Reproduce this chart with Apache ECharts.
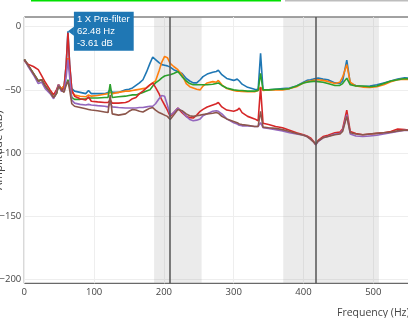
<!DOCTYPE html>
<html><head><meta charset="utf-8">
<script src="https://cdn.jsdelivr.net/npm/echarts@6/dist/echarts.min.js"></script>
<style>html,body{margin:0;padding:0;background:#fff}#c{width:408px;height:318px}</style>
</head><body><div id="c"></div>
<script>
const freq = [0,6,13,20,25,30,37,42,46,49, 53,57,60,62.5,65,68,72,80,88,92, 96,105,115,120,123,126,135,145,150,155, 160,165,170,175,180,184,188,193,197,201, 205,209,214,220,226,232,237,242,247,252, 256,262,270,275,278,283,290,300,305,308, 312,320,330,335,338.5,342,350,360,370,380, 390,400,405,410,414,417.5,421,428,435,445, 452,456,462,467,475,485,495,505,515,525, 535,545,555,565];
const seriesNames = ['1 X Pre-filter','2 X Pre-filter','3 X Pre-filter','1 X Post-filter','2 X Post-filter','3 X Post-filter'];
const blueVals = [-26,-31,-37,-43,-42,-47,-52,-56,-53,-46, -49,-47,-30,-3.61,-30,-49,-51,-52,-53,-50.5, -53,-53,-53,-52,-50,-52,-52,-50,-49.5,-48.5, -46.5,-44.5,-42,-36,-29,-24,-26,-28.5,-30,-30.5, -31,-32,-34,-35.5,-37,-41,-43,-44.5,-44.5,-42, -39.5,-37.5,-36,-35.5,-34.5,-38,-41,-42.5,-41.5,-43, -45.5,-48,-49.5,-50,-21,-50,-50,-49.5,-49,-48.5, -47,-44,-42.5,-42,-41.5,-41,-40.7,-41.5,-42,-44.5, -45,-43,-26.5,-45,-46.5,-47.3,-47,-46,-44.5,-43, -41.5,-40.5,-41,-41.5];
const orangeVals = [-26,-31,-37,-43,-42,-47,-52,-56,-53,-46, -49,-47,-35,-24.8,-35,-52,-54,-55,-55.5,-54, -55,-54.5,-53.5,-53,-52,-53,-52,-51,-51,-50.5, -50,-49.5,-49,-48.5,-46,-44.5,-43,-35,-28,-23.5, -24.5,-29,-31.5,-34,-38,-45,-47.5,-48.5,-49.5,-50, -47,-44.5,-43.5,-44,-42.5,-46,-49,-50.5,-51,-51, -51.3,-51.5,-51.5,-50.5,-48,-50.5,-50,-50,-50,-49, -47.5,-44.5,-43.5,-43,-42.5,-42,-42,-42.5,-43.3,-45, -44,-40,-30,-44,-47,-47.8,-48,-47.5,-46,-43.5, -42,-41.5,-42,-42];
const greenVals = [-26,-31,-37,-43,-42,-47,-52,-56,-53,-47, -50,-49,-46,-42,-47,-56,-57.5,-57.5,-57,-56.5, -56.5,-56.5,-56,-56,-45.5,-56,-55.5,-55,-54.5,-54, -54,-53,-52,-51,-50,-47,-44.5,-42.5,-40.5,-39, -38.5,-38,-37,-35.5,-39.5,-43,-45,-46,-46,-46, -46,-46,-45.5,-45,-44.5,-46.5,-48.5,-50,-50.3,-50.5, -50.5,-51,-51,-50.5,-37,-50,-50,-49.5,-49.5,-49, -47,-44.5,-44,-43.5,-43.3,-43.3,-43.5,-44,-45,-46.5, -46.5,-45,-40.7,-46,-47,-47,-47.5,-47,-45,-43, -42,-41,-41.5,-41.5];
const redVals = [-27,-30,-31.5,-34,-39,-44,-50,-54,-50,-46, -50,-49,-30,-4.8,-30,-50,-55,-57,-58,-55.5, -59,-59.5,-60,-60,-58,-60.5,-60.5,-60,-59,-57, -56,-53,-51,-48.5,-46,-44.6,-48,-53,-58,-62, -66,-71,-68,-64.5,-68,-71,-72,-72.3,-70,-67, -65.5,-63.6,-62,-61,-60,-63.5,-66,-67,-66,-64.5, -68,-71,-73,-74.5,-48,-76.5,-77.5,-79,-80,-82, -84,-85.5,-86.5,-88,-90.5,-93.5,-90,-87,-86,-84, -83.5,-81,-66,-83,-84.5,-85.5,-85,-84.5,-84,-83, -81,-81.5,-82,-82];
const purpleVals = [-26,-32,-38,-45,-44,-49,-53,-57,-52,-46, -51,-51,-40,-26,-40,-58,-60.5,-61.5,-62,-61.5, -62,-62.5,-63,-63.5,-60,-63.5,-64,-64.4,-64.4,-64.4, -64.4,-64,-64,-63.5,-63,-63,-61,-57,-54.5,-55, -62,-70,-68,-64.5,-67,-71,-73.5,-74.5,-74,-73, -70.5,-69,-67,-66.5,-67,-69,-73,-76,-77,-78, -78.5,-78.5,-79,-79,-76,-80,-80.5,-81.5,-82.5,-84, -85,-86,-87,-89,-91,-93.5,-91,-88,-87,-85, -84.5,-82,-69.7,-85,-86.5,-87,-86.5,-86,-85,-84, -83,-82,-82.5,-82.5];
const brownVals = [-26,-31,-37,-43,-42,-47,-52,-56,-53,-47, -50,-52,-46,-43,-50,-61,-63,-64,-65,-65.5, -66,-66.5,-67.5,-68,-54,-69,-70,-69,-67,-65.5, -66,-67,-67.5,-66,-64.5,-64,-66,-68,-69,-70, -71,-73.5,-70,-65.5,-66.5,-69,-70.5,-71,-70.5,-70, -69.5,-69,-68.5,-68,-68.5,-71,-73,-75,-76,-77, -77.5,-78,-79,-79,-67,-79.5,-80,-80.5,-81.5,-83, -84.5,-86,-87,-89,-91,-93,-90.5,-88,-87,-85.5, -85,-83,-71,-84,-85,-85.5,-85,-84.5,-84,-83.5, -82.5,-82,-82,-82];
const shadedBands = [[186, 254], [371, 508]];
const markerLines = [208.75, 417.5];
const hover = {name: '1 X Pre-filter', hz: 62.48, db: -3.61};
const yTicks = [-200, -150, -100, -50, 0];

const colors = ['#1f77b4','#ff7f0e','#2ca02c','#d62728','#9467bd','#8c564b'];
const allVals = [blueVals, orangeVals, greenVals, redVals, purpleVals, brownVals];

const chart = echarts.init(document.getElementById('c'), null, {renderer: 'canvas'});
const minus = v => v < 0 ? '\u2212' + (-v) : String(v);

const lineSeries = allVals.map((vals, k) => ({
  name: seriesNames[k], type: 'line', showSymbol: false, symbol: 'none',
  data: freq.map((f, i) => [f, vals[i]]),
  lineStyle: {color: colors[k], width: 1.6}, itemStyle: {color: colors[k]},
  z: 2, animation: false
}));

lineSeries.push({
  type: 'line', data: [], z: 5, animation: false, silent: true,
  markArea: {silent: true, itemStyle: {color: 'rgba(150,150,150,0.19)'},
    data: shadedBands.map(b => [{xAxis: b[0]}, {xAxis: b[1]}])},
  markLine: {silent: true, symbol: 'none', label: {show: false},
    lineStyle: {color: '#555', width: 1.5, type: 'solid'},
    data: markerLines.map(x => ({xAxis: x}))}
});

lineSeries.push({
  type: 'line', data: [], z: 10, animation: false,
  markPoint: {
    symbol: 'path://M0,5 L6,0 L6,10 Z', symbolSize: [6, 9], symbolOffset: [3, 0],
    itemStyle: {color: '#1f77b4'},
    data: [{coord: [hover.hz, hover.db]}],
    label: {show: true, position: 'right', distance: 0,
      formatter: '{t|' + hover.name + '}\n{t|' + hover.hz.toFixed(2) + ' Hz}\n{t|' + hover.db.toFixed(2) + ' dB}',
      backgroundColor: '#1f77b4', padding: [2, 4, 1, 3],
      rich: {t: {color: '#fff', fontFamily: 'Liberation Sans', fontSize: 9.5, lineHeight: 12, align: 'left'}}}
  }
});

chart.setOption({
  animation: false,
  backgroundColor: '#fff',
  grid: {left: 24.3, top: 17, width: 698, height: 266.3, show: true, borderColor: '#444', borderWidth: 1, containLabel: false, outerBoundsMode: 'none'},
  xAxis: {type: 'value', min: 0, max: 1000, interval: 100,
    name: 'Frequency (Hz)', nameLocation: 'middle', nameGap: 24, nameMoveOverlap: false,
    nameTextStyle: {color: '#444', fontFamily: 'Open Sans', fontSize: 10.5},
    axisLine: {show: false}, axisTick: {show: false},
    axisLabel: {color: '#444', fontFamily: 'Open Sans', fontSize: 9.5, margin: 4},
    splitLine: {lineStyle: {color: '#eee', width: 1}}},
  yAxis: {type: 'value', min: -203.2, max: 7.7,
    name: 'Amplitude (dB)', nameLocation: 'middle', nameGap: 20, nameMoveOverlap: false,
    nameTextStyle: {color: '#444', fontFamily: 'Open Sans', fontSize: 11.5},
    axisLine: {show: false}, axisTick: {show: false, customValues: yTicks},
    axisLabel: {color: '#444', fontFamily: 'Open Sans', fontSize: 9.5, margin: 3, customValues: yTicks, formatter: minus},
    splitLine: {lineStyle: {color: '#eee', width: 1}}},
  graphic: [
    {type: 'rect', shape: {x: 31, y: 0, width: 250, height: 1.5}, style: {fill: '#00e000'}},
    {type: 'rect', shape: {x: 285, y: 0, width: 123, height: 1.5}, style: {fill: '#bdbdbd'}}
  ],
  series: lineSeries
});
</script></body></html>
